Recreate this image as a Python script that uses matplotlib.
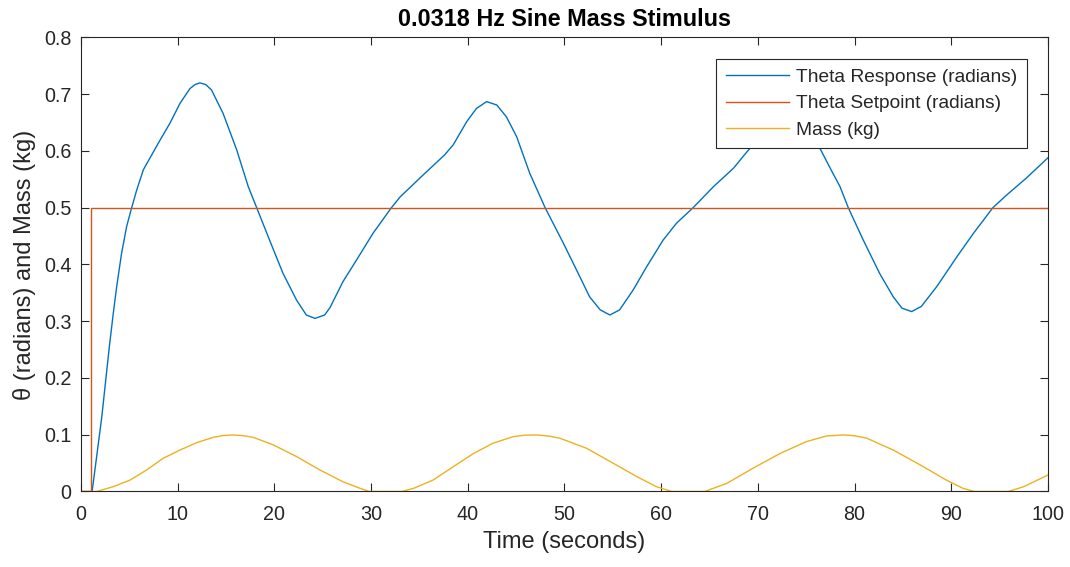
import matplotlib
matplotlib.use("Agg")
import matplotlib.pyplot as plt

# Theta response (radians) (peak near t=73 hidden by legend, estimated)
t_resp = [1.15, 2.14, 2.93, 3.34, 3.69, 4.2, 4.72, 5.24, 5.76, 6.45, 7.31, 8.17, 9.2,
          10.24, 11.27, 11.8, 12.3, 12.9, 13.5, 14.7, 16.1, 17.3, 18.17, 19.5, 20.9, 22.3, 23.3,
          24.2, 25.2, 25.75, 27.1, 28.5, 30.2, 32.1, 33.0, 35.4, 37.6, 38.5, 39.9,
          40.9, 41.95, 43.0, 44.0, 45.06, 46.4, 48.0, 49.9, 51.6, 52.6, 53.7, 54.7,
          55.7, 57.1, 58.5, 60.2, 61.6, 63.3, 65.4, 67.5, 68.6, 69.5, 70.9, 71.9,
          72.95, 74.0, 75.0, 76.2, 77.5, 78.5, 79.35, 80.9, 82.6, 84.0, 84.9, 85.9,
          86.9, 88.5, 90.6, 92.3, 94.3, 95.7, 97.75, 100.0]
theta_resp = [0.0, 0.13, 0.255, 0.314, 0.361, 0.42, 0.467, 0.5, 0.531, 0.567, 0.593, 0.619, 0.649,
              0.684, 0.71, 0.717, 0.72, 0.717, 0.7075, 0.666, 0.602, 0.537, 0.5, 0.443, 0.384, 0.337, 0.311,
              0.305, 0.311, 0.324, 0.37, 0.408, 0.455, 0.5, 0.519, 0.558, 0.593, 0.611, 0.652,
              0.675, 0.687, 0.681, 0.66, 0.625, 0.561, 0.5, 0.437, 0.378, 0.343, 0.32, 0.311,
              0.32, 0.355, 0.396, 0.443, 0.473, 0.5, 0.537, 0.57, 0.593, 0.611, 0.65, 0.672,
              0.683, 0.677, 0.655, 0.612, 0.569, 0.537, 0.5, 0.443, 0.384, 0.343, 0.323, 0.317,
              0.326, 0.361, 0.414, 0.455, 0.5, 0.522, 0.552, 0.588]

# Theta setpoint (radians): step at t = 1 s
t_set = [0, 1.0, 1.0, 100]
theta_set = [0, 0, 0.5, 0.5]

# Mass (kg)
t_mass = [0, 1.62, 3.34, 5.07, 6.79, 8.5, 10.24, 11.96, 13.7, 14.7, 15.65, 16.7, 17.8, 19.9, 22.3,
          24.7, 27.1, 28.85, 29.8, 33.2, 34.4, 36.4, 38.5, 40.6, 42.6, 44.7, 45.9, 47.1,
          48.3, 49.5, 52.3, 55.05, 57.5, 59.5, 61.1, 64.5, 66.8, 69.5, 72.3, 75.0, 77.1,
          78.8, 80.0, 81.25, 84.0, 86.8, 89.5, 91.2, 92.4, 95.9, 97.5, 100.0]
mass = [0, 0, 0.0085, 0.02, 0.038, 0.0585, 0.073, 0.086, 0.0955, 0.0985, 0.0996, 0.0985, 0.0955, 0.082, 0.0614,
        0.038, 0.017, 0.0056, 0, 0, 0.0056, 0.02, 0.0437, 0.067, 0.085, 0.0966, 0.0992, 0.0996,
        0.0978, 0.094, 0.076, 0.0497, 0.026, 0.0085, 0, 0, 0.0144, 0.041, 0.067, 0.0878, 0.0978,
        0.0996, 0.0982, 0.094, 0.073, 0.0467, 0.02, 0.0056, 0, 0, 0.0085, 0.029]

plt.rcParams['font.family'] = ['Liberation Sans', 'DejaVu Sans']
txt = '#262626'

fig = plt.figure(figsize=(10.7, 5.67), dpi=100)
ax = fig.add_axes([0.0757, 0.1332, 0.9037, 0.8007])

ax.plot(t_resp, theta_resp, color='#0072BD', lw=1.0, label='Theta Response (radians)')
ax.plot(t_set, theta_set, color='#D95319', lw=1.0, label='Theta Setpoint (radians)')
ax.plot(t_mass, mass, color='#EDB120', lw=1.0, label='Mass (kg)')

ax.set_xlim(0, 100)
ax.set_ylim(0, 0.8)
ax.set_xticks(range(0, 101, 10))
ax.set_yticks([0, 0.1, 0.2, 0.3, 0.4, 0.5, 0.6, 0.7, 0.8])
ax.set_yticklabels(['0', '0.1', '0.2', '0.3', '0.4', '0.5', '0.6', '0.7', '0.8'])
ax.tick_params(direction='in', top=True, right=True, length=6, width=0.8,
               colors=txt, labelsize=14.2)
ax.tick_params(axis='x', pad=10)
ax.tick_params(axis='y', pad=6.7)
for s in ax.spines.values():
    s.set_color(txt)
    s.set_linewidth(0.8)

ax.set_xlabel('Time (seconds)', fontsize=17, color=txt, labelpad=5)
ax.set_ylabel('θ (radians) and Mass (kg)', fontsize=17, color=txt, labelpad=6)
ax.set_title('0.0318 Hz Sine Mass Stimulus', fontsize=16.8, fontweight='bold', pad=8)

leg = ax.legend(loc='upper right', bbox_to_anchor=(0.9783, 0.9533), borderaxespad=0,
                fontsize=13.8, handlelength=3.3, fancybox=False, framealpha=1,
                borderpad=0.5, labelspacing=0.48, handletextpad=0.36)
leg.get_frame().set_edgecolor(txt)
leg.get_frame().set_linewidth(0.8)
for t in leg.get_texts():
    t.set_color(txt)

fig.savefig('out.png', dpi=100)
